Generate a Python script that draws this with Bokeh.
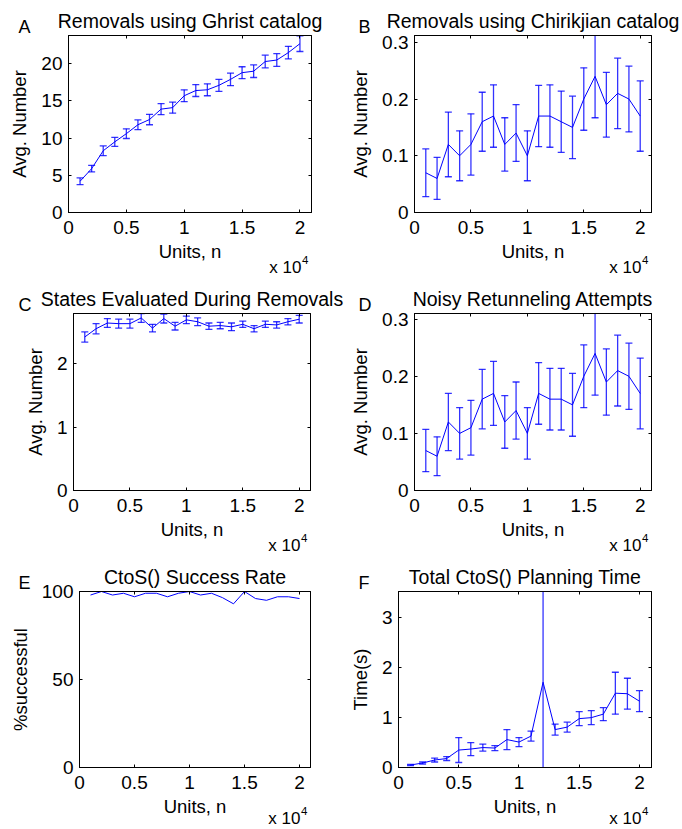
from bokeh.plotting import figure
from bokeh.layouts import column, row
from bokeh.models import Range1d, LinearAxis, FixedTicker, CustomJSTickFormatter, ColumnDataSource
from bokeh.core.properties import value
from bokeh.embed import file_html
from bokeh.resources import INLINE

# ---------------- data ----------------
units_n = [1000, 2000, 3000, 4000, 5000, 6000, 7000, 8000, 9000, 10000,
           11000, 12000, 13000, 14000, 15000, 16000, 17000, 18000, 19000, 20000]
x_ticks = [0, 5000, 10000, 15000, 20000]
x_tick_labels = ["0", "0.5", "1", "1.5", "2"]

ghrist_mean = [4.2, 5.9, 8.3, 9.5, 10.6, 11.8, 12.5, 13.9, 14.1, 15.7,
               16.4, 16.5, 17.1, 17.9, 18.8, 19.0, 20.3, 20.5, 21.5, 22.7]
ghrist_err = [0.45, 0.45, 0.65, 0.6, 0.65, 0.65, 0.7, 0.75, 0.75, 0.8,
              0.8, 0.8, 0.8, 0.85, 0.8, 0.85, 0.85, 0.85, 0.85, 1.05]

chirik_mean = [0.07, 0.06, 0.12, 0.10, 0.12, 0.16, 0.17, 0.12, 0.14, 0.10,
               0.17, 0.17, 0.16, 0.15, 0.20, 0.24, 0.19, 0.21, 0.20, 0.17]
chirik_err = [0.042, 0.037, 0.057, 0.044, 0.054, 0.052, 0.055, 0.047, 0.05, 0.044,
              0.054, 0.055, 0.054, 0.055, 0.055, 0.073, 0.057, 0.062, 0.058, 0.062]

states_mean = [2.42, 2.55, 2.64, 2.63, 2.63, 2.72, 2.56, 2.71, 2.59, 2.69,
               2.66, 2.59, 2.60, 2.58, 2.62, 2.55, 2.62, 2.61, 2.66, 2.70]
states_err = [0.08, 0.08, 0.07, 0.07, 0.07, 0.07, 0.06, 0.07, 0.06, 0.06,
              0.06, 0.05, 0.05, 0.06, 0.05, 0.05, 0.05, 0.05, 0.05, 0.06]

noisy_mean = [0.07, 0.06, 0.12, 0.10, 0.11, 0.16, 0.17, 0.12, 0.14, 0.10,
              0.17, 0.16, 0.16, 0.15, 0.20, 0.24, 0.19, 0.21, 0.20, 0.17]
noisy_err = [0.037, 0.034, 0.05, 0.045, 0.048, 0.052, 0.056, 0.046, 0.05, 0.045,
             0.054, 0.054, 0.054, 0.055, 0.055, 0.073, 0.058, 0.062, 0.058, 0.062]

success_rate = [98, 100, 98, 99, 97, 99, 99, 97, 99, 100,
                98, 99, 96.5, 93, 100, 96, 95, 97, 97, 96]

plan_time_mean = [0.05, 0.09, 0.15, 0.18, 0.35, 0.37, 0.40, 0.39, 0.56, 0.51,
                  0.63, 1.71, 0.76, 0.81, 0.98, 1.00, 1.07, 1.49, 1.48, 1.33]
plan_time_err = [0.01, 0.02, 0.04, 0.04, 0.25, 0.13, 0.07, 0.05, 0.2, 0.09,
                 0.1, 2.6, 0.11, 0.1, 0.14, 0.14, 0.13, 0.42, 0.31, 0.21]

FONT = "Liberation Sans"
BLUE = "#0000ff"
XMAX = 21000


def add_text(p, x, y, text, size, align, dx, dy):
    src = ColumnDataSource(dict(x=[x], y=[y], t=[text]))
    p.text(x="x", y="y", text="t", source=src, text_font=value(FONT),
           text_font_size=value(size), text_align=align, text_baseline="alphabetic",
           text_color="black", x_offset=dx, y_offset=dy, level="overlay")


def make_panel(letter, title, ylabel, ymax, yticks, ytick_labels, mean, err,
               width, height, bl, br, bt, bb, letter_x, exp_dy=55):
    p = figure(width=width, height=height, output_backend="svg", toolbar_location=None,
               x_range=Range1d(0, XMAX), y_range=Range1d(0, ymax),
               min_border_left=bl, min_border_right=br, min_border_top=bt, min_border_bottom=bb,
               background_fill_color="white", border_fill_color="white")
    p.xgrid.visible = False
    p.ygrid.visible = False
    p.outline_line_color = "black"
    p.outline_line_width = 1

    xa = p.xaxis[0]
    xa.ticker = FixedTicker(ticks=x_ticks)
    xa.major_label_overrides = dict(zip(x_ticks, x_tick_labels))
    xa.axis_label = "Units, n"
    ya = p.yaxis[0]
    ya.ticker = FixedTicker(ticks=yticks)
    ya.major_label_overrides = dict(zip(yticks, ytick_labels))
    ya.axis_label = ylabel
    for ax in (xa, ya):
        ax.major_tick_in = 3
        ax.major_tick_out = 0
        ax.minor_tick_line_color = None
        ax.axis_line_color = "black"
        ax.major_tick_line_color = "black"
        ax.major_label_text_font = FONT
        ax.major_label_text_font_size = "19px"
        ax.major_label_text_color = "black"
        ax.axis_label_text_font = FONT
        ax.axis_label_text_font_size = "18.5px"
        ax.axis_label_text_font_style = "normal"
        ax.axis_label_text_color = "black"
    xa.major_label_standoff = 8
    xa.axis_label_standoff = 4
    ya.major_label_standoff = 6
    ya.axis_label_standoff = 8

    for loc, tk in (("right", yticks), ("above", x_ticks)):
        ax = LinearAxis(ticker=FixedTicker(ticks=tk),
                        formatter=CustomJSTickFormatter(code="return ''"),
                        major_tick_in=3, major_tick_out=0, minor_tick_line_color=None,
                        major_label_text_font_size="1px", major_label_standoff=0,
                        axis_line_color="black")
        p.add_layout(ax, loc)

    src = ColumnDataSource(dict(x=units_n, y=mean))
    if err is not None:
        lower = [m - e for m, e in zip(mean, err)]
        upper = [m + e for m, e in zip(mean, err)]
        esrc = ColumnDataSource(dict(x=units_n, lo=lower, hi=upper))
        p.segment(x0="x", y0="lo", x1="x", y1="hi", source=esrc,
                  line_color=BLUE, line_width=1.3, line_alpha=0.8)
        p.scatter(x="x", y="lo", source=esrc, marker="dash", size=7,
                  line_color=BLUE, line_width=1.3, line_alpha=0.8)
        p.scatter(x="x", y="hi", source=esrc, marker="dash", size=7,
                  line_color=BLUE, line_width=1.3, line_alpha=0.8)
    p.line(x="x", y="y", source=src, line_color=BLUE, line_width=1)

    # title, panel letter and x-axis exponent (anchored at frame corners, offsets in px)
    add_text(p, XMAX / 2, ymax, title, "19.5px", "center", 0, -14.3)
    add_text(p, 0, ymax, letter, "18px", "left", letter_x - bl, -8.3)
    add_text(p, XMAX, 0, "x 10", "17px", "right", -10, exp_dy)
    add_text(p, XMAX, 0, "4", "11.5px", "left", -9.5, exp_dy - 8)
    return p


LW, RW = 346, 335
pA = make_panel("A", "Removals using Ghrist catalog", "Avg. Number", 23.8,
                [0, 5, 10, 15, 20], ["0", "5", "10", "15", "20"], ghrist_mean, ghrist_err,
                LW, 280, 68, 35, 35, 67, 18)
pB = make_panel("B", "Removals using Chirikjian catalog", "Avg. Number", 0.312,
                [0, 0.1, 0.2, 0.3], ["0", "0.1", "0.2", "0.3"], chirik_mean, chirik_err,
                RW, 280, 68, 30, 35, 68, 12)
pC = make_panel("C", "States Evaluated During Removals", "Avg. Number", 2.79,
                [0, 1, 2], ["0", "1", "2"], states_mean, states_err,
                LW, 274, 73, 36, 33, 64, 18)
pD = make_panel("D", "Noisy Retunneling Attempts", "Avg. Number", 0.31,
                [0, 0.1, 0.2, 0.3], ["0", "0.1", "0.2", "0.3"], noisy_mean, noisy_err,
                RW, 274, 68, 30, 33, 64, 12)
pE = make_panel("E", "CtoS() Success Rate", "%successful", 100,
                [0, 50, 100], ["0", "50", "100"], success_rate, None,
                LW, 274, 79, 36, 37, 61, 18, 51)
pF = make_panel("F", "Total CtoS() Planning Time", "Time(s)", 3.53,
                [0, 1, 2, 3], ["0", "1", "2", "3"], plan_time_mean, plan_time_err,
                RW, 274, 52, 30, 37, 61, 12, 51)

layout = column(row(pA, pB), row(pC, pD), row(pE, pF))

open("out.html", "w").write(file_html(layout, INLINE))
